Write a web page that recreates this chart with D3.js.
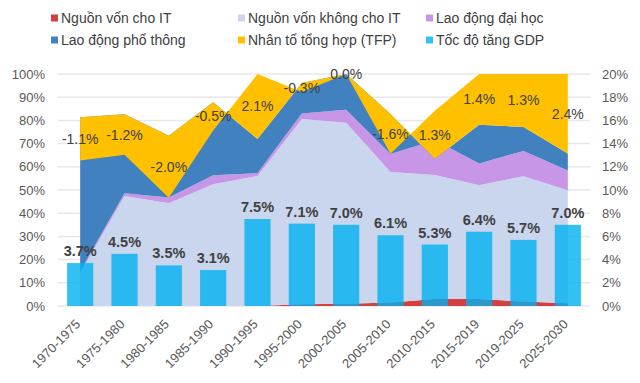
<!DOCTYPE html>
<html><head><meta charset="utf-8">
<script src="https://cdn.jsdelivr.net/npm/d3@7"></script>
<style>
html,body{margin:0;padding:0;background:#fff;}
svg{display:block;font-family:"Liberation Sans",Arial,sans-serif;}
</style></head><body>
<svg id="chart" width="640" height="383"></svg>
<script>
// ---- data (growth contributions, percentage points) ----
const categories = ["1970-1975","1975-1980","1980-1985","1985-1990","1990-1995","1995-2000","2000-2005","2005-2010","2010-2015","2015-2019","2019-2025","2025-2030"];
const itCapital       = [0, 0, 0, 0, 0, 0.06, 0.07, 0.14, 0.19, 0.19, 0.11, 0.08];
const nonItCapital    = [0.84, 3.27, 3.32, 2.15, 4.2, 6.15, 5.46, 5.23, 3.37, 3.14, 3.08, 3.41];
const collegeLabor    = [0.04, 0.08, 0.19, 0.16, 0.09, 0.18, 0.39, 0.72, 0.94, 0.6, 0.62, 0.6];
const nonCollegeLabor = [3.92, 2.35, 1.99, 1.29, 1.11, 1.01, 1.08, 1.61, -0.5, 1.07, 0.59, 0.51];
const tfp             = [-1.1, -1.2, -2.0, -0.5, 2.1, -0.3, 0.0, -1.6, 1.3, 1.4, 1.3, 2.4];
const gdpGrowth       = [3.7, 4.5, 3.5, 3.1, 7.5, 7.1, 7.0, 6.1, 5.3, 6.4, 5.7, 7.0];
const leftTicks  = [0,10,20,30,40,50,60,70,80,90,100];
const rightTicks = [0,2,4,6,8,10,12,14,16,18,20];
const seriesNames  = ["Nguồn vốn cho IT","Nguồn vốn không cho IT","Lao động đại học","Lao động phổ thông","Nhân tố tổng hợp (TFP)","Tốc độ tăng GDP"];
const seriesColors = ["#d43f3f","#cad6ee","#c896e6","#4181c0","#ffc000","#33bff2"];

// ---- layout ----
const P = {left:58, right:590, top:74, bottom:306};
const svg = d3.select("#chart");
const keys = ["it","nonIt","college","nonCollege","tfp"];
const rawSeries = {it:itCapital, nonIt:nonItCapital, college:collegeLabor, nonCollege:nonCollegeLabor, tfp:tfp};

// 100% stacked (normalised by sum of absolute values, like the spreadsheet)
const rows = categories.map((c,i)=>{
  const s = d3.sum(keys, k => Math.abs(rawSeries[k][i]));
  const r = {cat:c};
  keys.forEach(k => r[k] = rawSeries[k][i] / s * 100);
  return r;
});
const stacked = d3.stack().keys(keys).offset(d3.stackOffsetNone)(rows);

const x = d3.scaleBand().domain(categories).range([P.left, P.right]).paddingInner(0.41).paddingOuter(0.205);
const xc = c => x(c) + x.bandwidth()/2;
const yL = d3.scaleLinear().domain([0,100]).range([P.bottom, P.top]);
const yR = d3.scaleLinear().domain([0,20]).range([P.bottom, P.top]);

// clip
svg.append("defs").append("clipPath").attr("id","plotclip")
  .append("rect").attr("x",P.left).attr("y",P.top).attr("width",P.right-P.left).attr("height",P.bottom-P.top);

// gridlines
svg.append("g").selectAll("line").data(leftTicks).join("line")
  .attr("x1",P.left).attr("x2",P.right)
  .attr("y1",d=>yL(d)).attr("y2",d=>yL(d))
  .attr("stroke","#e8e8e8").attr("stroke-width",1.5);

// areas
const area = d3.area().x(d=>xc(d.data.cat)).y0(d=>yL(d[0])).y1(d=>yL(d[1]));
svg.append("g").attr("clip-path","url(#plotclip)")
  .selectAll("path").data(stacked).join("path")
  .attr("d",area).attr("fill",(d,i)=>seriesColors[i]);

// bars
svg.append("g").selectAll("rect").data(gdpGrowth).join("rect")
  .attr("x",(d,i)=>x(categories[i])).attr("width",x.bandwidth())
  .attr("y",d=>yR(d)).attr("height",d=>yR(0)-yR(d))
  .attr("fill","#00b0f0").attr("fill-opacity",0.8);

// bar labels
svg.append("g").selectAll("text").data(gdpGrowth).join("text")
  .attr("x",(d,i)=>xc(categories[i])).attr("y",d=>yR(d)-7)
  .attr("text-anchor","middle").attr("font-size",14.5).attr("font-weight","bold")
  .attr("fill","#404040").text(d=>d.toFixed(1)+"%");

// TFP labels at middle of yellow segment
const tfpStack = stacked[4];
svg.append("g").selectAll("text").data(tfpStack).join("text")
  .attr("x",d=>xc(d.data.cat)).attr("y",d=>yL((d[0]+d[1])/2))
  .attr("dominant-baseline","central").attr("text-anchor","middle")
  .attr("font-size",14).attr("fill","#404040")
  .text((d,i)=>tfp[i].toFixed(1)+"%");

// axes
const axL = svg.append("g").attr("transform",`translate(${P.left},0)`)
  .call(d3.axisLeft(yL).tickValues(leftTicks).tickSize(0).tickPadding(13).tickFormat(d=>d+"%"));
const axR = svg.append("g").attr("transform",`translate(${P.right},0)`)
  .call(d3.axisRight(yR).tickValues(rightTicks).tickSize(0).tickPadding(12).tickFormat(d=>d+"%"));
const axB = svg.append("g").attr("transform",`translate(0,${P.bottom})`)
  .call(d3.axisBottom(x).tickSize(0).tickPadding(0));
[axL,axR,axB].forEach(a=>{
  a.select(".domain").remove();
  a.selectAll("text").attr("font-size",13).attr("fill","#595959").attr("font-family","'Liberation Sans',Arial,sans-serif");
});
axB.selectAll("text")
  .attr("text-anchor","end").attr("dy",null).attr("y",0)
  .attr("transform","translate(1,19) rotate(-45)");

// legend
const legCols = [51, 238, 426];
const legRows = [18, 40];
const leg = svg.append("g").selectAll("g").data(seriesNames).join("g")
  .attr("transform",(d,i)=>`translate(${legCols[i%3]},${legRows[Math.floor(i/3)]})`);
leg.append("rect").attr("x",0).attr("y",-3.5).attr("width",7).attr("height",7)
  .attr("fill",(d,i)=>seriesColors[i]);
leg.append("text").attr("x",10).attr("y",0).attr("dominant-baseline","central")
  .attr("font-size",14).attr("fill","#404040").text(d=>d);
</script>
</body></html>
